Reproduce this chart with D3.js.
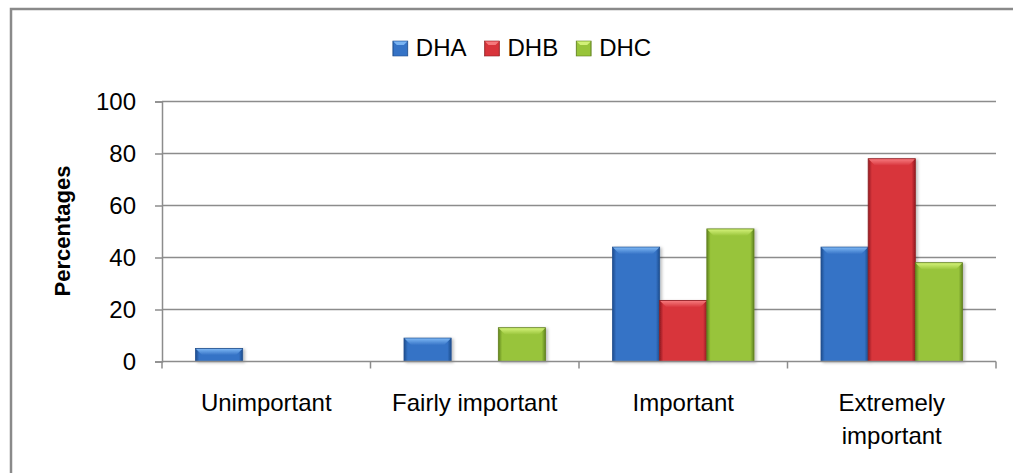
<!DOCTYPE html>
<html>
<head>
<meta charset="utf-8">
<script src="https://cdnjs.cloudflare.com/ajax/libs/d3/7.8.5/d3.min.js"></script>
<style>
  html, body { margin: 0; padding: 0; background: #fff; }
  svg { display: block; font-family: "Liberation Sans", Arial, sans-serif; }
</style>
</head>
<body>
<svg id="chart" width="1013" height="473"></svg>
<script>
const categories = ["Unimportant", "Fairly important", "Important", "Extremely important"];
const seriesNames = ["DHA", "DHB", "DHC"];
const dhaValues = [5, 9, 44, 44];
const dhbValues = [0, 0, 23.5, 78];
const dhcValues = [0, 13, 51, 38];
const yTickValues = [0, 20, 40, 60, 80, 100];
const yAxisTitle = "Percentages";

const seriesValues = [dhaValues, dhbValues, dhcValues];
const palette = {
  DHA: { base: "#3573c6", light: "#7ab4f2", dark: "#1d4d8e", edge: "#24528f" },
  DHB: { base: "#d8343b", light: "#f5797c", dark: "#931c20", edge: "#8e1e22" },
  DHC: { base: "#98c43a", light: "#d2f078", dark: "#5f8420", edge: "#63811f" }
};

const svg = d3.select("#chart");
const W = 1013, H = 473;
const plot = { left: 162, right: 996, top: 101.5, bottom: 361.5 };

// frame
svg.append("rect")
  .attr("x", 11).attr("y", 9).attr("width", W + 20).attr("height", H + 20)
  .attr("fill", "#fff").attr("stroke", "#8a8a8a").attr("stroke-width", 2.5);

const defs = svg.append("defs");
seriesNames.forEach(s => {
  const c = palette[s];
  const g = defs.append("linearGradient").attr("id", "g-" + s)
    .attr("x1", "0").attr("x2", "1").attr("y1", "0").attr("y2", "0");
  g.append("stop").attr("offset", "0").attr("stop-color", c.dark);
  g.append("stop").attr("offset", "0.08").attr("stop-color", c.base);
  g.append("stop").attr("offset", "0.92").attr("stop-color", c.base);
  g.append("stop").attr("offset", "1").attr("stop-color", c.dark);
  const t = defs.append("linearGradient").attr("id", "t-" + s)
    .attr("x1", "0").attr("x2", "0").attr("y1", "0").attr("y2", "1");
  t.append("stop").attr("offset", "0").attr("stop-color", c.light);
  t.append("stop").attr("offset", "1").attr("stop-color", c.base);
});
const f = defs.append("filter").attr("id", "shadow").attr("x", "-20%").attr("y", "-20%").attr("width", "150%").attr("height", "150%");
f.append("feDropShadow").attr("dx", 2).attr("dy", 1).attr("stdDeviation", 1.5).attr("flood-color", "#000").attr("flood-opacity", 0.25);

const x0 = d3.scaleBand().domain(categories).range([plot.left, plot.right]).paddingInner(0).paddingOuter(0);
const x1 = d3.scaleBand().domain(seriesNames).range([0, x0.bandwidth()]).paddingInner(0).paddingOuter(0.71);
const y = d3.scaleLinear().domain([0, 100]).range([plot.bottom, plot.top]);

// gridlines
svg.append("g").selectAll("line").data(yTickValues.filter(v => v > 0)).join("line")
  .attr("x1", plot.left).attr("x2", plot.right)
  .attr("y1", d => y(d)).attr("y2", d => y(d))
  .attr("stroke", "#8c8c8c").attr("stroke-width", 1.5);

// y axis
const yAxis = svg.append("g").attr("transform", `translate(${plot.left},0)`)
  .call(d3.axisLeft(y).tickValues(yTickValues).tickSize(7).tickPadding(19).tickFormat(d3.format("d")));
yAxis.select(".domain").attr("stroke", "#8c8c8c").attr("stroke-width", 1.5);
yAxis.selectAll(".tick line").attr("stroke", "#8c8c8c").attr("stroke-width", 1.5);
yAxis.selectAll(".tick text").attr("font-size", 24).attr("fill", "#000")
  .attr("font-family", "'Liberation Sans', Arial, sans-serif");

// bars
const groups = svg.append("g").selectAll("g").data(categories).join("g")
  .attr("transform", d => `translate(${x0(d)},0)`);
groups.each(function(cat, ci) {
  const g = d3.select(this);
  seriesNames.forEach((s, si) => {
    const v = seriesValues[si][ci];
    if (!v) return;
    const bx = x1(s), bw = x1.bandwidth();
    const by = y(v), bh = y(0) - y(v);
    const bar = g.append("g").attr("filter", "url(#shadow)");
    bar.append("rect").attr("x", bx).attr("y", by).attr("width", bw).attr("height", bh)
      .attr("fill", `url(#g-${s})`).attr("stroke", palette[s].edge).attr("stroke-width", 0.8);
    const b = Math.min(7, bh / 2);
    bar.append("path")
      .attr("d", `M${bx + 0.5},${by + 0.5} L${bx + bw - 0.5},${by + 0.5} L${bx + bw - b},${by + b} L${bx + b},${by + b} Z`)
      .attr("fill", `url(#t-${s})`);
  });
});

// x axis
svg.append("line").attr("x1", plot.left).attr("x2", plot.right)
  .attr("y1", plot.bottom).attr("y2", plot.bottom)
  .attr("stroke", "#8c8c8c").attr("stroke-width", 1.5);
const boundaries = categories.map(c => x0(c)).concat([plot.right]);
svg.append("g").selectAll("line").data(boundaries).join("line")
  .attr("x1", d => d).attr("x2", d => d)
  .attr("y1", plot.bottom).attr("y2", plot.bottom + 7)
  .attr("stroke", "#8c8c8c").attr("stroke-width", 1.5);

// category labels with wrapping
const labels = svg.append("g").selectAll("text").data(categories).join("text")
  .attr("x", d => x0(d) + x0.bandwidth() / 2)
  .attr("y", 411)
  .attr("text-anchor", "middle").attr("font-size", 24).attr("fill", "#000");
labels.each(function(d) {
  const t = d3.select(this);
  t.text(d);
  if (this.getComputedTextLength() > x0.bandwidth() - 20) {
    const words = d.split(" ");
    t.text(null);
    words.forEach((w, i) => {
      t.append("tspan").attr("x", x0(d) + x0.bandwidth() / 2).attr("dy", i === 0 ? 0 : 32.5).text(w);
    });
  }
});

// y title
svg.append("text")
  .attr("transform", `translate(70,231) rotate(-90)`)
  .attr("text-anchor", "middle").attr("font-size", 22).attr("font-weight", "bold")
  .attr("fill", "#000").text(yAxisTitle);

// legend
const legend = svg.append("g");
let lx = 0;
seriesNames.forEach(s => {
  const it = legend.append("g");
  it.append("rect").attr("x", 0).attr("y", -15).attr("width", 15).attr("height", 15)
    .attr("fill", `url(#g-${s})`).attr("stroke", palette[s].edge).attr("stroke-width", 0.6);
  it.append("path").attr("d", "M0.5,-14.5 L14.5,-14.5 L11,-11 L4,-11 Z").attr("fill", palette[s].light);
  const tx = it.append("text").attr("x", 23).attr("y", 0).attr("font-size", 24).attr("fill", "#000").text(s);
  const w = 23 + tx.node().getComputedTextLength();
  it.attr("transform", `translate(${lx},0)`);
  lx += w + 18;
});
const legendWidth = lx - 18;
legend.attr("transform", `translate(${522 - legendWidth / 2},56)`);
</script>
</body>
</html>
